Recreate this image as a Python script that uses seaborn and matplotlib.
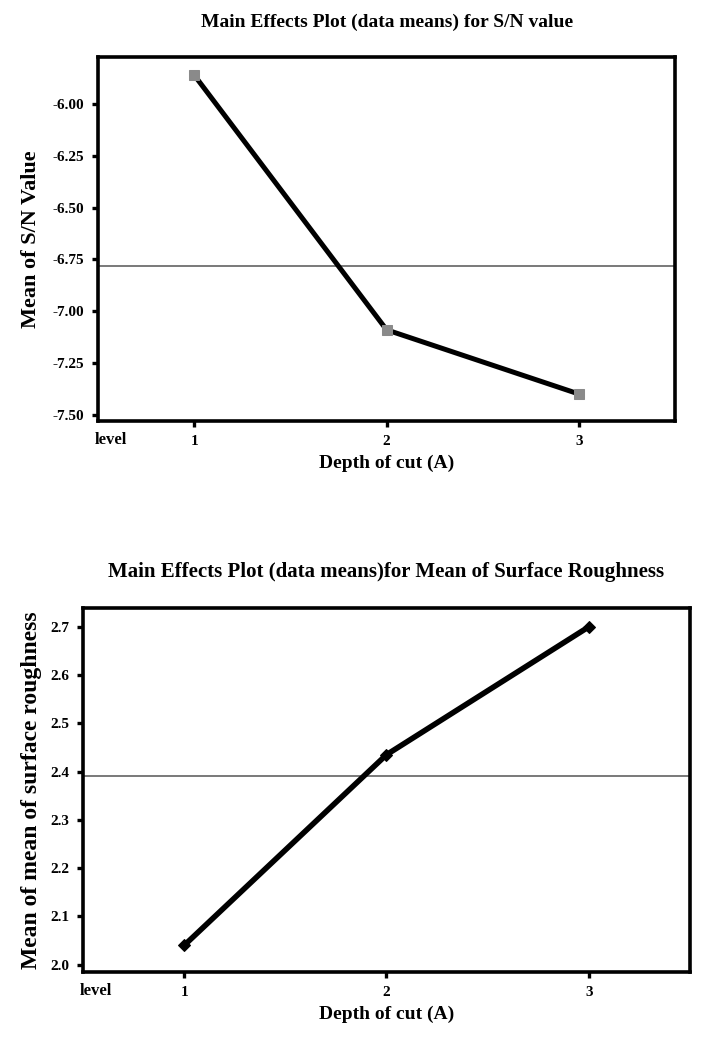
import numpy as np
import pandas as pd
import matplotlib
matplotlib.use('Agg')
import matplotlib.pyplot as plt
import seaborn as sns

# main effects data
levels = [1, 2, 3]
sn_means = [-5.86, -7.09, -7.40]
sr_means = [2.04, 2.435, 2.70]
sn_ticks = [-6.00, -6.25, -6.50, -6.75, -7.00, -7.25, -7.50]
sr_ticks = [2.0, 2.1, 2.2, 2.3, 2.4, 2.5, 2.6, 2.7]

sns.set_style('white')
plt.rcParams['font.family'] = ['Liberation Serif', 'DejaVu Serif']
plt.rcParams['font.weight'] = 'bold'
plt.rcParams['axes.unicode_minus'] = False
plt.rcParams['text.color'] = 'black'
plt.rcParams['axes.labelcolor'] = 'black'
plt.rcParams['xtick.color'] = 'black'
plt.rcParams['ytick.color'] = 'black'

fig = plt.figure(figsize=(7.03, 10.42), dpi=100)
ax1 = fig.add_axes([0.1394, 0.596, 0.821, 0.3493])
ax2 = fig.add_axes([0.118, 0.0672, 0.8634, 0.3493])


def style_axes(ax, ticks, fmt, ylim):
    for sp in ax.spines.values():
        sp.set_visible(True)
        sp.set_color('black')
        sp.set_linewidth(2.6)
    ax.set_xlim(0.5, 3.5)
    ax.set_ylim(*ylim)
    ax.set_xticks(levels)
    ax.set_xticklabels([str(l) for l in levels])
    ax.set_yticks(ticks)
    ax.set_yticklabels([fmt % t for t in ticks])
    ax.tick_params(axis='both', direction='out', length=4, width=2.4,
                   color='black', labelcolor='black', labelsize=11, pad=6,
                   bottom=True, left=True)
    for lab in ax.get_xticklabels() + ax.get_yticklabels():
        lab.set_fontweight('bold')
    ax.set_xlabel('Depth of cut (A)', fontsize=14, fontweight='bold', labelpad=5)
    ax.text(-0.005, -0.03, 'level', transform=ax.transAxes, ha='left', va='top',
            fontsize=12, fontweight='bold')


# top: S/N ratio
df1 = pd.DataFrame({'level': levels, 'value': sn_means})
sns.lineplot(data=df1, x='level', y='value', ax=ax1, color='black', linewidth=3.6,
             marker='s', markersize=7, markerfacecolor='#8a8a8a',
             markeredgecolor='#8a8a8a', zorder=3)
ax1.axhline(np.mean(sn_means), color='#6e6e6e', linewidth=1.3, zorder=1)
style_axes(ax1, sn_ticks, '%.2f', (-7.53, -5.773))
ax1.set_ylabel('Mean of S/N Value', fontsize=16, fontweight='bold', labelpad=8)
ax1.set_title('Main Effects Plot (data means) for S/N value', fontsize=14,
              fontweight='bold', pad=22)

# bottom: surface roughness
df2 = pd.DataFrame({'level': levels, 'value': sr_means})
sns.lineplot(data=df2, x='level', y='value', ax=ax2, color='black', linewidth=4.0,
             marker='D', markersize=6, markerfacecolor='black',
             markeredgecolor='black', zorder=3)
ax2.axhline(np.mean(sr_means), color='#6e6e6e', linewidth=1.3, zorder=1)
style_axes(ax2, sr_ticks, '%.1f', (1.985, 2.739))
ax2.set_ylabel('Mean of mean of surface roughness', fontsize=17,
               fontweight='bold', labelpad=6)
ax2.set_title('Main Effects Plot (data means)for Mean of Surface Roughness',
              fontsize=15, fontweight='bold', pad=22)

fig.savefig('out.png', dpi=100)
